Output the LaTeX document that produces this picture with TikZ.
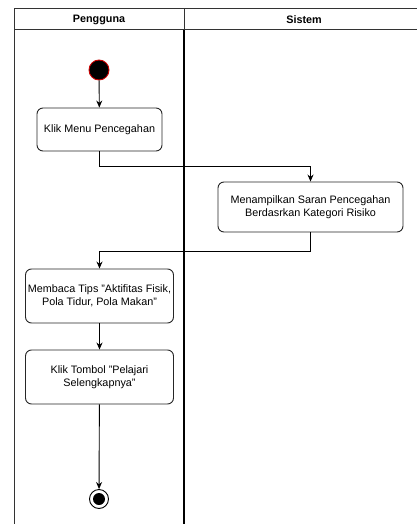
\documentclass[tikz,border=0pt]{standalone}
\usepackage{fontspec}
\setmainfont{Liberation Sans}
\usetikzlibrary{arrows.meta}
\begin{document}
\begin{tikzpicture}[x=1pt,y=-1pt,>={Stealth[length=7pt,width=6pt]},font=\fontsize{10.8}{13.5}\selectfont]
        \tikzstyle{activity}=[rectangle,rounded corners=6pt,draw=black!85,line width=0.9pt,align=center,inner sep=2pt]
        \tikzstyle{edge}=[draw,->,line width=0.9pt]
        \tikzstyle{lane}=[draw=black!80,line width=1pt]
        \useasboundingbox (0,0) rectangle (417,524);
        \clip (0,0) rectangle (417,524);
       \begin{scope}
         % swimlanes
         \draw[lane] (14,540) -- (14,9) -- (440,9);
         \draw[lane] (14,30) -- (440,30);
         \draw[lane] (184,9) -- (184,30);
         \draw[lane,line width=1.8pt,draw=black] (184,30) -- (184,540);
         \draw[lane] (424,9) -- (424,540);
         \node (hdrUser) at (99,19.5) {\bfseries Pengguna};
         \node (hdrSys) at (304,19.5) {\bfseries Sistem};

         \node [circle,fill=black,draw=red!80!black,line width=0.9pt,minimum size=20pt,inner sep=0pt] (start) at (99,70) {};
         \node [activity,minimum width=125pt,minimum height=43pt] (act1) at (99.5,129.5) {Klik Menu Pencegahan};
         \node [activity,minimum width=185pt,minimum height=50pt] (act2) at (310.5,207) {Menampilkan Saran Pencegahan\\Berdasrkan Kategori Risiko};
         \node [activity,minimum width=148pt,minimum height=54pt] (act3) at (99.5,296) {Membaca Tips "Aktifitas Fisik,\\Pola Tidur, Pola Makan"};
         \node [activity,minimum width=148pt,minimum height=54pt] (act4) at (99.5,377) {Klik Tombol "Pelajari\\Selengkapnya"};
         \node [circle,draw=black,line width=0.9pt,minimum size=19pt,inner sep=0pt] (end) at (99,499) {};
         \node [circle,fill=black,minimum size=12pt,inner sep=0pt] (endDot) at (end) {};

         \path[edge] (start) -- (act1);
         \path[edge] (act1.south) -- ++(0,15) -| (act2.north);
         \path[edge] (act2.south) -- ++(0,19) -| (act3.north);
         \path[edge] (act3) -- (act4);
         \path[edge] (act4) -- (end);
        \end{scope}
      \end{tikzpicture}
\end{document}
